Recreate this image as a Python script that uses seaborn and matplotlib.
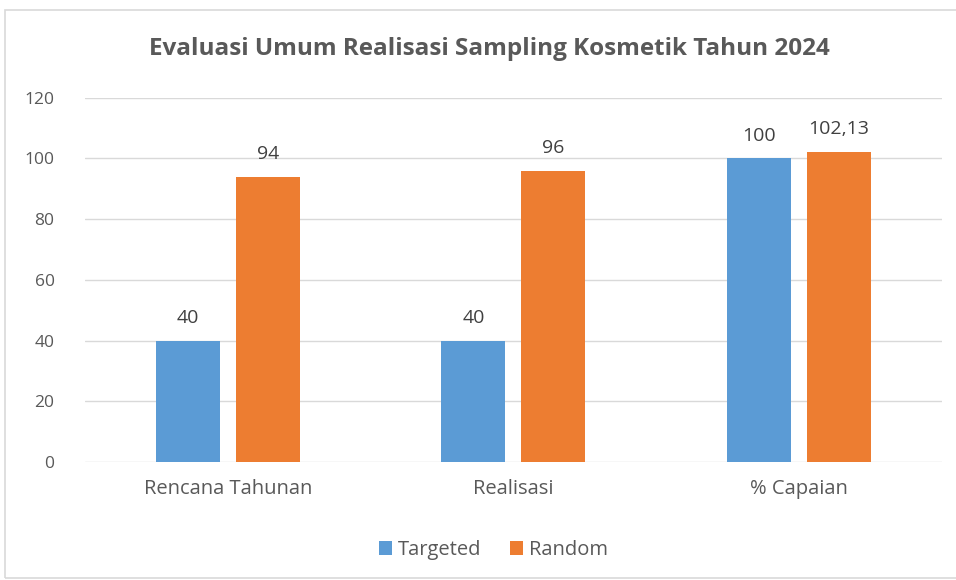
import pandas as pd
import seaborn as sns
import matplotlib.pyplot as plt
from matplotlib.patches import Rectangle

# data
categories = ['Rencana Tahunan', 'Realisasi', '% Capaian']
targeted = [40, 40, 100]
random_ = [94, 96, 102.13]
series = ['Targeted', 'Random']

df = pd.DataFrame({
    'Kategori': categories * 2,
    'Seri': ['Targeted'] * 3 + ['Random'] * 3,
    'Nilai': targeted + random_,
})

sns.set_style('white')
plt.rcParams['font.family'] = ['Open Sans', 'DejaVu Sans']
txt = '#595959'

fig = plt.figure(figsize=(9.56, 5.8), dpi=100)
ax = fig.add_axes([0.089, 0.2034, 0.896, 0.628])

sns.barplot(data=df, x='Kategori', y='Nilai', hue='Seri', order=categories,
            hue_order=series, palette=['#5B9BD5', '#ED7D31'],
            width=0.56, gap=0.2, saturation=1, linewidth=0, ax=ax, legend=True)

# value labels, comma as decimal separator
for cont in ax.containers:
    labels = [f'{v:g}'.replace('.', ',') for v in cont.datavalues]
    ax.bar_label(cont, labels=labels, padding=10, fontsize=14, color='#404040')

ax.set_ylim(0, 120)
ax.set_yticks(range(0, 121, 20))
ax.set_xlim(-0.5, 2.5)
ax.yaxis.grid(True, color='#D9D9D9', linewidth=1)
ax.set_axisbelow(True)
for s in ax.spines.values():
    s.set_visible(False)
ax.tick_params(axis='both', length=0, labelcolor=txt)
ax.tick_params(axis='x', pad=12, labelsize=14.5)
ax.tick_params(axis='y', pad=22, labelsize=12.5)
ax.set_xlabel('')
ax.set_ylabel('')

leg = ax.legend(loc='upper center', bbox_to_anchor=(0.477, -0.165), ncol=2, frameon=False,
                fontsize=14.5, handlelength=0.65, handleheight=0.65, handletextpad=0.3,
                columnspacing=1.4)
for t in leg.get_texts():
    t.set_color(txt)

fig.text(0.512, 0.915, 'Evaluasi Umum Realisasi Sampling Kosmetik Tahun 2024',
         ha='center', va='center', fontsize=17.5, fontweight='bold', color='#595959')

fig.patches.append(Rectangle((0.005, 0.003), 1.2, 0.98, transform=fig.transFigure,
                             fill=False, edgecolor='#D9D9D9', linewidth=1.2))

fig.savefig('out.png', dpi=100)
